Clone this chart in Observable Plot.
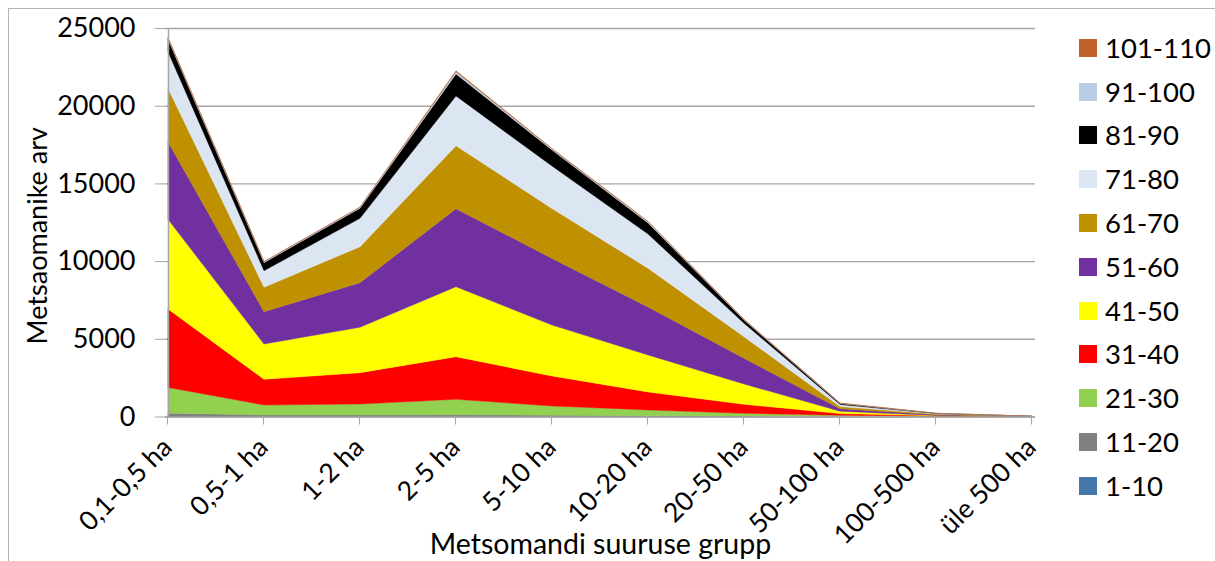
<!DOCTYPE html>
<html>
<head>
<meta charset="utf-8">
<script src="https://cdn.jsdelivr.net/npm/d3@7"></script>
<script src="https://cdn.jsdelivr.net/npm/@observablehq/plot@0.6"></script>
<style>
  html, body { margin: 0; padding: 0; background: #fff; overflow: hidden; }
  #wrap { position: relative; width: 1215px; height: 561px; overflow: hidden; font-family: Lato, "Open Sans", sans-serif; }
  #frame { position: absolute; left: 8px; top: 8px; width: 1400px; height: 800px; border-left: 1px solid #b4b4b4; border-top: 1px solid #b4b4b4; box-sizing: border-box; }
  #chart { position: absolute; left: 0; top: 0; }
  #legend { position: absolute; left: 1079px; top: 0; }
  .li { position: absolute; left: 0; height: 30px; white-space: nowrap; }
  .sw { position: absolute; left: 0; top: 6px; width: 18px; height: 18px; }
  .lt { position: absolute; left: 26px; top: 0; font-size: 27.5px; line-height: 30px; color: #000; }
</style>
</head>
<body>
<div id="wrap">
  <div id="frame"></div>
  <div id="chart"></div>
  <div id="legend"></div>
</div>
<script>
// Categories (x) and series (age groups)
const categories = ["0,1-0,5 ha", "0,5-1 ha", "1-2 ha", "2-5 ha", "5-10 ha", "10-20 ha", "20-50 ha", "50-100 ha", "100-500 ha", "üle 500 ha"];
const series = ["1-10", "11-20", "21-30", "31-40", "41-50", "51-60", "61-70", "71-80", "81-90", "91-100", "101-110"];
const colors = ["#4677aa", "#808080", "#92d050", "#ff0000", "#ffff00", "#7030a0", "#bf9000", "#dce6f2", "#000000", "#b9cde5", "#c0622a"];
const yTicks = [0, 5000, 10000, 15000, 20000, 25000];

// Values per series, one per category
const s1_10    = [30, 20, 20, 30, 20, 10, 5, 5, 2, 0];
const s11_20   = [180, 80, 80, 90, 60, 40, 20, 15, 5, 0];
const s21_30   = [1660, 640, 705, 985, 595, 370, 180, 60, 15, 1];
const s31_40   = [5050, 1655, 2015, 2740, 1930, 1160, 580, 110, 20, 2];
const s41_50   = [5770, 2270, 2920, 4505, 3280, 2380, 1305, 150, 30, 3];
const s51_60   = [4990, 2080, 2870, 5020, 4290, 3090, 1655, 160, 40, 3];
const s61_70   = [3440, 1570, 2315, 4055, 3205, 2490, 1390, 140, 45, 4];
const s71_80   = [2355, 1070, 1830, 3200, 2735, 2205, 860, 130, 30, 3];
const s81_90   = [810, 515, 645, 1415, 1030, 710, 215, 60, 15, 2];
const s91_100  = [80, 55, 60, 150, 70, 70, 35, 25, 6, 1];
const s101_110 = [35, 25, 25, 60, 30, 35, 15, 15, 3, 0];

const seriesValues = [s1_10, s11_20, s21_30, s31_40, s41_50, s51_60, s61_70, s71_80, s81_90, s91_100, s101_110];

const data = [];
series.forEach((s, i) => {
  categories.forEach((c, j) => data.push({series: s, cat: c, value: seriesValues[i][j]}));
});

const axisGray = "#a6a6a6";

const chart = Plot.plot({
  width: 1215,
  height: 561,
  marginLeft: 165,
  marginRight: 180,
  marginTop: 28,
  marginBottom: 144.5,
  style: {fontFamily: "Lato, 'Open Sans', sans-serif", background: "transparent", color: "#000"},
  x: {type: "point", domain: categories, padding: 0},
  y: {domain: [0, 25000]},
  color: {domain: series, range: colors},
  marks: [
    Plot.gridY(yTicks, {stroke: axisGray, strokeOpacity: 1, strokeWidth: 1.4}),
    Plot.areaY(data, {x: "cat", y: "value", z: "series", fill: "series", stroke: "series", strokeWidth: 0.4}),
    Plot.ruleX([categories[0]], {stroke: axisGray, strokeWidth: 1.4}),
    Plot.ruleY([0], {stroke: axisGray, strokeWidth: 1.4}),
    Plot.axisY({ticks: yTicks, tickSize: 10, tickPadding: 20, tickFormat: "d", stroke: axisGray, fill: "#000", fontSize: 27, label: null}),
    Plot.axisX({tickSize: 8, tickRotate: -45, textAnchor: "end", tickPadding: 18, dx: -1, stroke: axisGray, fill: "#000", fontSize: 26.5, label: null}),
    Plot.text(["Metsaomanike arv"], {frameAnchor: "left", textAnchor: "middle", dx: -127, dy: 13, rotate: -90, fontSize: 27, fill: "#000"}),
    Plot.text(["Metsomandi suuruse grupp"], {frameAnchor: "bottom", lineAnchor: "middle", dy: 128, fontSize: 28.5, fill: "#000"})
  ]
});
document.getElementById("chart").appendChild(chart);

// Legend (reverse order, top = 101-110)
const legend = document.getElementById("legend");
const rev = series.map((s, i) => ({s, c: colors[i]})).reverse();
rev.forEach((d, k) => {
  const row = document.createElement("div");
  row.className = "li";
  row.style.top = (47.7 + k * 43.8 - 15) + "px";
  row.innerHTML = `<div class="sw" style="background:${d.c}"></div><div class="lt">${d.s}</div>`;
  legend.appendChild(row);
});
</script>
</body>
</html>
